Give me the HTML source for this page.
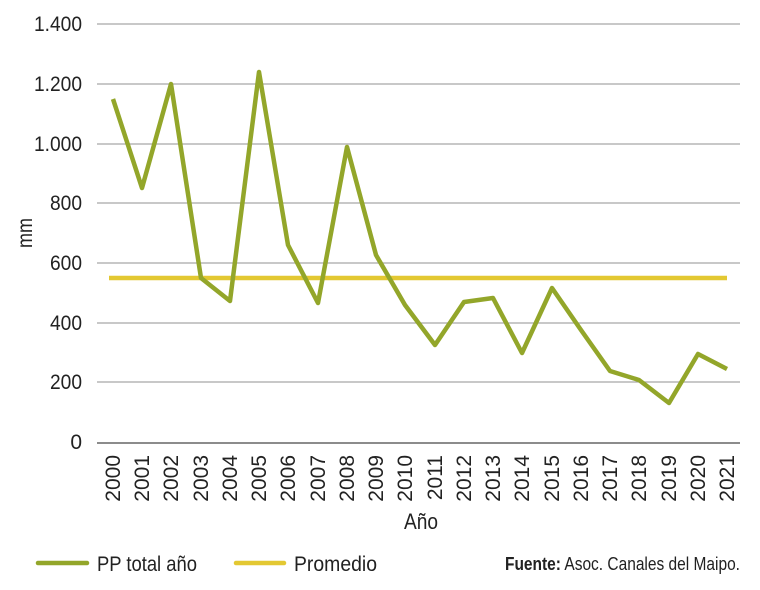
<!DOCTYPE html>
<html><head><meta charset="utf-8"><style>
html,body{margin:0;padding:0;background:#fff;}
svg{display:block;}
text{font-family:"Liberation Sans Narrow","Liberation Sans",sans-serif;fill:#222;}
</style></head><body>
<svg width="760" height="590" viewBox="0 0 760 590" xmlns="http://www.w3.org/2000/svg">
<g stroke="#a6a6a6" stroke-width="1.3">
<line x1="97" y1="24" x2="740" y2="24"/>
<line x1="97" y1="84" x2="740" y2="84"/>
<line x1="97" y1="144" x2="740" y2="144"/>
<line x1="97" y1="203" x2="740" y2="203"/>
<line x1="97" y1="263" x2="740" y2="263"/>
<line x1="97" y1="323" x2="740" y2="323"/>
<line x1="97" y1="382" x2="740" y2="382"/>
</g>
<line x1="97" y1="443" x2="740" y2="443" stroke="#8c8c8c" stroke-width="2"/>
<g font-size="21" text-anchor="end">
<text x="82" y="31" textLength="48" lengthAdjust="spacingAndGlyphs">1.400</text>
<text x="82" y="91" textLength="48" lengthAdjust="spacingAndGlyphs">1.200</text>
<text x="82" y="151" textLength="48" lengthAdjust="spacingAndGlyphs">1.000</text>
<text x="82" y="210" textLength="32" lengthAdjust="spacingAndGlyphs">800</text>
<text x="82" y="270" textLength="32" lengthAdjust="spacingAndGlyphs">600</text>
<text x="82" y="330" textLength="32" lengthAdjust="spacingAndGlyphs">400</text>
<text x="82" y="389" textLength="32" lengthAdjust="spacingAndGlyphs">200</text>
<text x="82" y="449">0</text>
</g>
<text transform="translate(32,233) rotate(-90)" font-size="21" text-anchor="middle" textLength="30" lengthAdjust="spacingAndGlyphs">mm</text>
<g font-size="21" text-anchor="end">
<text transform="translate(120,455) rotate(-90)">2000</text>
<text transform="translate(149,455) rotate(-90)">2001</text>
<text transform="translate(178,455) rotate(-90)">2002</text>
<text transform="translate(208,455) rotate(-90)">2003</text>
<text transform="translate(237,455) rotate(-90)">2004</text>
<text transform="translate(266,455) rotate(-90)">2005</text>
<text transform="translate(295,455) rotate(-90)">2006</text>
<text transform="translate(325,455) rotate(-90)">2007</text>
<text transform="translate(354,455) rotate(-90)">2008</text>
<text transform="translate(383,455) rotate(-90)">2009</text>
<text transform="translate(412,455) rotate(-90)">2010</text>
<text transform="translate(442,455) rotate(-90)">2011</text>
<text transform="translate(471,455) rotate(-90)">2012</text>
<text transform="translate(500,455) rotate(-90)">2013</text>
<text transform="translate(529,455) rotate(-90)">2014</text>
<text transform="translate(559,455) rotate(-90)">2015</text>
<text transform="translate(588,455) rotate(-90)">2016</text>
<text transform="translate(617,455) rotate(-90)">2017</text>
<text transform="translate(646,455) rotate(-90)">2018</text>
<text transform="translate(676,455) rotate(-90)">2019</text>
<text transform="translate(705,455) rotate(-90)">2020</text>
<text transform="translate(734,455) rotate(-90)">2021</text>
</g>
<text x="421" y="529" font-size="22" text-anchor="middle" textLength="34" lengthAdjust="spacingAndGlyphs">Año</text>
<line x1="109" y1="278" x2="727" y2="278" stroke="#e3c832" stroke-width="4.5"/>
<polyline fill="none" stroke="#93a62a" stroke-width="4.5" stroke-linejoin="round"
points="113,99 142,188 171,84 201,278 230,301 259,72 288,245 318,303 347,147 376,255 405,305 435,345 464,302 493,298 522,353 552,288 581,330 610,371 639,380 669,403 698,354 727,369"/>
<line x1="38" y1="563" x2="87" y2="563" stroke="#93a62a" stroke-width="4.5" stroke-linecap="round"/>
<text x="97" y="571" font-size="21" textLength="100" lengthAdjust="spacingAndGlyphs">PP total año</text>
<line x1="236" y1="563" x2="284" y2="563" stroke="#e3c832" stroke-width="4.5" stroke-linecap="round"/>
<text x="294" y="571" font-size="21" textLength="83" lengthAdjust="spacingAndGlyphs">Promedio</text>
<text x="740" y="570" font-size="18" text-anchor="end" textLength="235" lengthAdjust="spacingAndGlyphs"><tspan font-weight="bold">Fuente:</tspan> Asoc. Canales del Maipo.</text>
</svg>
</body></html>
